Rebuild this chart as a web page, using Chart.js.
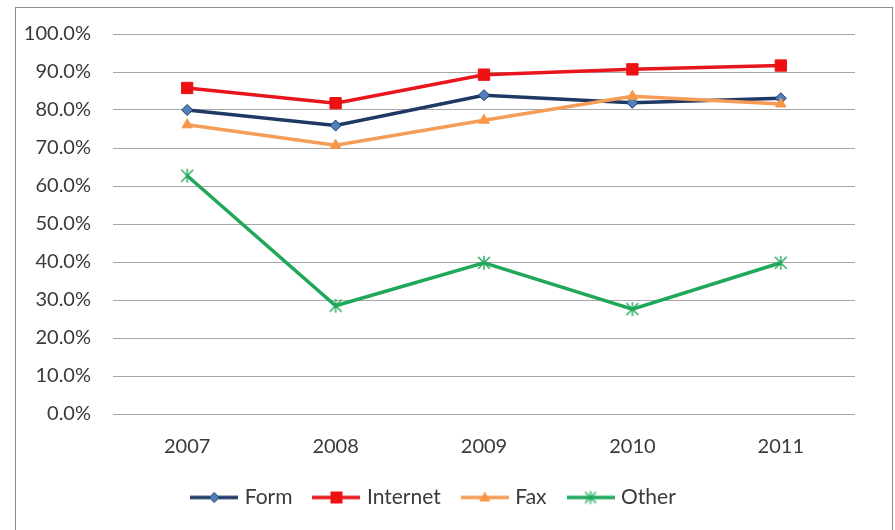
<!DOCTYPE html>
<html>
<head>
<meta charset="utf-8">
<script src="https://cdn.jsdelivr.net/npm/chart.js@4.4.1/dist/chart.umd.min.js"></script>
<style>
  html, body { margin: 0; padding: 0; background: #ffffff; }
  #wrap { width: 895px; height: 530px; position: relative; }
</style>
</head>
<body>
<div id="wrap"><canvas id="c" width="895" height="530"></canvas></div>
<script>
// Share of responses per channel, by year (percent)
const years    = ['2007', '2008', '2009', '2010', '2011'];
const form     = [80.0, 75.9, 83.9, 81.9, 83.1];
const internet = [85.8, 81.8, 89.3, 90.7, 91.7];
const fax      = [76.1, 70.7, 77.3, 83.6, 81.6];
const other    = [62.7, 28.5, 39.8, 27.6, 39.8];
const seriesNames = ['Form', 'Internet', 'Fax', 'Other'];

const FONT = 'Lato, "Noto Sans", sans-serif';
const TEXT = '#3a3a3a';
const colors = {
  form:     { line: '#1f3864', fill: '#4f81bd' },
  internet: { line: '#e8161c', fill: '#ee1111' },
  fax:      { line: '#f59d56', fill: '#f79646' },
  other:    { line: '#1fa85a', fill: '#1fa85a' }
};

// Asterisk marker: an X with a vertical stroke through it
function makeStar(color, size) {
  const c = document.createElement('canvas');
  c.width = size; c.height = size;
  const g = c.getContext('2d');
  const m = size / 2, r = size / 2 - 1;
  g.strokeStyle = color; g.lineWidth = 1.4;
  g.beginPath();
  g.moveTo(m - r * 0.85, m - r * 0.85); g.lineTo(m + r * 0.85, m + r * 0.85);
  g.moveTo(m + r * 0.85, m - r * 0.85); g.lineTo(m - r * 0.85, m + r * 0.85);
  g.moveTo(m, m - r); g.lineTo(m, m + r);
  g.stroke();
  return c;
}
const starMarker = makeStar(colors.other.line, 16);

// Legend swatch: a short line segment with the series marker in the middle
function makeSwatch(lineColor, fillColor, kind) {
  const w = 48, h = 18;
  const c = document.createElement('canvas');
  c.width = w; c.height = h;
  const g = c.getContext('2d');
  const cx = w / 2, cy = h / 2;
  g.strokeStyle = lineColor; g.lineWidth = 3.5;
  g.beginPath(); g.moveTo(0, cy); g.lineTo(w, cy); g.stroke();
  g.fillStyle = fillColor; g.strokeStyle = lineColor; g.lineWidth = 1;
  g.beginPath();
  if (kind === 'diamond') {
    g.moveTo(cx, cy - 5); g.lineTo(cx + 5, cy); g.lineTo(cx, cy + 5); g.lineTo(cx - 5, cy); g.closePath();
    g.fill(); g.stroke();
  } else if (kind === 'square') {
    g.rect(cx - 6, cy - 6, 12, 12); g.fill();
  } else if (kind === 'triangle') {
    g.moveTo(cx, cy - 6); g.lineTo(cx + 5.5, cy + 4); g.lineTo(cx - 5.5, cy + 4); g.closePath();
    g.fill();
  } else if (kind === 'star') {
    g.drawImage(makeStar(lineColor, 15), cx - 7.5, cy - 7.5);
  }
  return c;
}
const swatches = [
  makeSwatch(colors.form.line, colors.form.fill, 'diamond'),
  makeSwatch(colors.internet.line, colors.internet.fill, 'square'),
  makeSwatch(colors.fax.line, colors.fax.fill, 'triangle'),
  makeSwatch(colors.other.line, colors.other.fill, 'star')
];

// White background plus the thin outer frame
const framePlugin = {
  id: 'frame',
  beforeDraw(chart) {
    const ctx = chart.ctx;
    ctx.save();
    ctx.fillStyle = '#ffffff';
    ctx.fillRect(0, 0, chart.width, chart.height);
    ctx.strokeStyle = '#8c8c8c';
    ctx.lineWidth = 1;
    ctx.strokeRect(15.5, 7.5, 877, 530);
    ctx.restore();
  }
};

new Chart(document.getElementById('c'), {
  type: 'line',
  data: {
    labels: years,
    datasets: [
      { label: seriesNames[0], data: form, order: 4,
        borderColor: colors.form.line, backgroundColor: colors.form.fill,
        borderWidth: 3.5, pointStyle: 'rectRot', pointRadius: 5.5,
        pointBackgroundColor: colors.form.fill, pointBorderColor: colors.form.line, pointBorderWidth: 1 },
      { label: seriesNames[1], data: internet, order: 3,
        borderColor: colors.internet.line, backgroundColor: colors.internet.fill,
        borderWidth: 3.5, pointStyle: 'rect', pointRadius: 8,
        pointBackgroundColor: colors.internet.fill, pointBorderColor: colors.internet.fill, pointBorderWidth: 1 },
      { label: seriesNames[2], data: fax, order: 2,
        borderColor: colors.fax.line, backgroundColor: colors.fax.fill,
        borderWidth: 3.5, pointStyle: 'triangle', pointRadius: 6,
        pointBackgroundColor: colors.fax.fill, pointBorderColor: colors.fax.fill, pointBorderWidth: 1 },
      { label: seriesNames[3], data: other, order: 1,
        borderColor: colors.other.line, backgroundColor: colors.other.fill,
        borderWidth: 3.5, pointStyle: starMarker, pointRadius: 8 }
    ]
  },
  options: {
    responsive: false,
    animation: false,
    devicePixelRatio: 1,
    layout: { padding: { left: 15, right: 40, top: 33, bottom: 12 } },
    elements: { line: { tension: 0 } },
    scales: {
      x: {
        offset: true,
        grid: { display: false, drawTicks: false },
        border: { display: false },
        ticks: { color: TEXT, font: { family: FONT, size: 20 }, padding: 21 },
        afterFit(scale) { scale.height = 49; }
      },
      y: {
        min: 0, max: 100,
        grid: { color: '#a6a6a6', lineWidth: 1, drawTicks: false },
        border: { display: false },
        ticks: {
          stepSize: 10, color: TEXT, font: { family: FONT, size: 20 }, padding: 22,
          callback: v => v.toFixed(1) + '%'
        },
        afterFit(scale) { scale.width = 98; }
      }
    },
    plugins: {
      tooltip: { enabled: false },
      legend: {
        position: 'bottom',
        labels: {
          color: TEXT,
          font: { family: FONT, size: 21 },
          usePointStyle: true,
          pointStyleWidth: 40,
          padding: 24,
          generateLabels(chart) {
            return chart.data.datasets.map((ds, i) => ({
              text: ds.label,
              pointStyle: swatches[i],
              fillStyle: 'rgba(0,0,0,0)',
              strokeStyle: 'rgba(0,0,0,0)',
              lineWidth: 0,
              hidden: false,
              fontColor: TEXT,
              datasetIndex: i
            }));
          }
        }
      }
    }
  },
  plugins: [framePlugin]
});
</script>
</body>
</html>
